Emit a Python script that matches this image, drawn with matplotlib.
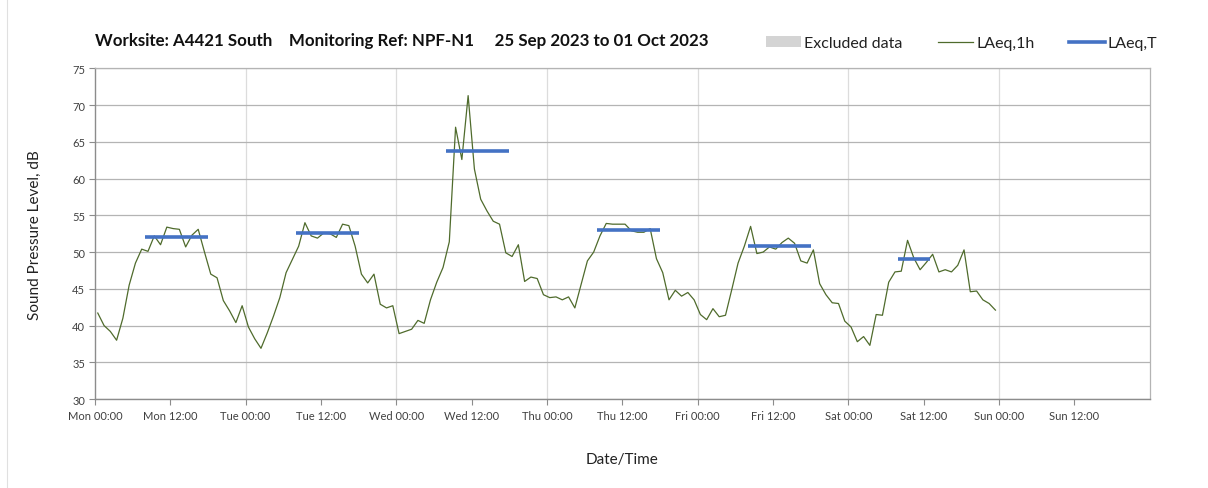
import numpy as np
import matplotlib
matplotlib.use("Agg")
import matplotlib.pyplot as plt
from matplotlib.patches import Patch
from matplotlib.lines import Line2D

plt.rcParams['font.family'] = ['Lato', 'DejaVu Sans']

# hourly LAeq,1h values, Mon 00:00 .. Sat 23:00
laeq_1h = [
    41.7, 40.0, 39.2, 38.0, 41.0, 45.5, 48.5, 50.4, 50.1, 52.2, 51.0, 53.4,
    53.2, 53.1, 50.7, 52.3, 53.1, 50.0, 47.0, 46.5, 43.4, 42.0, 40.4, 42.7,
    39.8, 38.2, 36.9, 39.0, 41.3, 43.8, 47.2, 49.0, 50.8, 54.0, 52.2, 51.9,
    52.6, 52.5, 52.0, 53.8, 53.6, 50.8, 47.0, 45.8, 47.0, 42.9, 42.4, 42.7,
    38.9, 39.2, 39.5, 40.7, 40.3, 43.5, 45.9, 47.9, 51.4, 67.0, 62.6, 71.3,
    61.3, 57.2, 55.6, 54.2, 53.8, 49.9, 49.4, 51.0, 46.0, 46.6, 46.4, 44.2,
    43.8, 43.9, 43.5, 43.9, 42.4, 45.6, 48.8, 50.0, 52.2, 53.9, 53.8, 53.8,
    53.8, 52.9, 52.7, 52.7, 53.2, 49.1, 47.2, 43.5, 44.8, 44.0, 44.5, 43.5,
    41.5, 40.8, 42.3, 41.2, 41.4, 44.9, 48.5, 50.8, 53.5, 49.8, 50.0, 50.7,
    50.4, 51.3, 51.9, 51.2, 48.8, 48.5, 50.3, 45.7, 44.2, 43.1, 43.0, 40.6,
    39.8, 37.8, 38.5, 37.3, 41.5, 41.4, 45.9, 47.3, 47.4, 51.6, 49.2, 47.6,
    48.6, 49.7, 47.3, 47.6, 47.3, 48.2, 50.3, 44.6, 44.7, 43.5, 43.0, 42.1,
]

# daytime LAeq,T periods: start hour, end hour (from Mon 00:00), level
laeq_t_start = [8, 32, 56, 80, 104, 128]
laeq_t_end = [18, 42, 66, 90, 114, 133]
laeq_t_level = [52.1, 52.6, 63.7, 52.95, 50.8, 49.1]

tick_hours = list(range(0, 168, 12))
tick_labels = ["Mon 00:00", "Mon 12:00", "Tue 00:00", "Tue 12:00", "Wed 00:00",
               "Wed 12:00", "Thu 00:00", "Thu 12:00", "Fri 00:00", "Fri 12:00",
               "Sat 00:00", "Sat 12:00", "Sun 00:00", "Sun 12:00"]

fig = plt.figure(figsize=(12.08, 4.89), dpi=100)
ax = fig.add_axes([0.0786, 0.182, 0.873, 0.676])

hours = np.arange(len(laeq_1h)) + 0.45
ax.plot(hours, laeq_1h, color='#4f6b2c', lw=0.9, zorder=3)
ax.hlines(laeq_t_level, laeq_t_start, laeq_t_end, color='#4472c4', lw=2.6, zorder=4)

ax.set_xlim(0, 168)
ax.set_ylim(30, 75)
ax.set_yticks(range(30, 76, 5))
ax.set_xticks(tick_hours)
ax.set_xticklabels(tick_labels)
ax.tick_params(axis='both', labelsize=8, colors='#404040', length=4, width=0.8)
ax.tick_params(axis='x', pad=4, color='#8c8c8c')
ax.tick_params(axis='y', pad=3, color='#8c8c8c')

ax.grid(axis='y', color='#b4b4b4', lw=0.9)
for d in range(24, 168, 24):
    ax.axvline(d, color='#dcdcdc', lw=0.9, zorder=0)
ax.set_axisbelow(True)
for s in ['left', 'bottom']:
    ax.spines[s].set_color('#8c8c8c')
    ax.spines[s].set_linewidth(1.0)
for s in ['top', 'right']:
    ax.spines[s].set_color('#b4b4b4')
    ax.spines[s].set_linewidth(0.9)

ax.set_ylabel("Sound Pressure Level, dB", fontsize=11, color='#222222', labelpad=22)
ax.set_xlabel("Date/Time", fontsize=11, color='#222222', labelpad=22)

fig.text(0.079, 0.916, "Worksite: A4421 South    Monitoring Ref: NPF-N1     25 Sep 2023 to 01 Oct 2023",
         fontsize=12.2, fontweight='bold', color='#111111', va='center')

handles = [Patch(facecolor='#d4d4d4', edgecolor='none'),
           Line2D([], [], color='#4f6b2c', lw=0.9),
           Line2D([], [], color='#4472c4', lw=2.6)]
fig.legend(handles, ["Excluded data", "LAeq,1h", "LAeq,T"], loc='center right',
           bbox_to_anchor=(0.97, 0.91), ncol=3, frameon=False, fontsize=11.5,
           handlelength=2.2, handletextpad=0.2, columnspacing=2.2, labelcolor='#222222')

fig.patches.append(plt.Rectangle((0.006, -0.01), 1.2, 1.2, transform=fig.transFigure,
                                 fill=False, edgecolor='#e0e0e0', lw=0.8))

fig.savefig("out.png", dpi=100)
